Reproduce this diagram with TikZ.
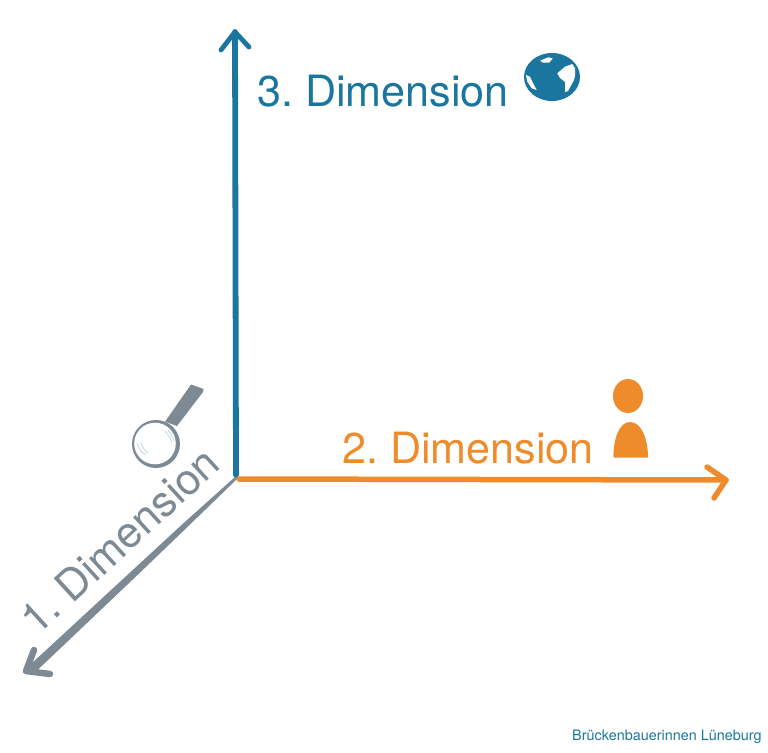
\documentclass[tikz,border=0pt]{standalone}
\usepackage{fontspec}
\setmainfont{TeX Gyre Heros}
\definecolor{axisblue}{HTML}{1A769F}
\definecolor{axisorange}{HTML}{EE8C2B}
\definecolor{axisgray}{HTML}{7D8A94}
\definecolor{glasshl}{HTML}{C9DDE6}
\tikzset{
  axisline/.style={line width=#1,line cap=round,line join=round},
  label3/.style={font=\fontsize{43.1}{48}\selectfont,inner sep=0pt,anchor=base west},
}
\begin{document}
\frenchspacing
\begin{tikzpicture}[x=1pt,y=-1pt]
\useasboundingbox (0,0) rectangle (768,752);
\coordinate (origin) at (236,478);
\coordinate (blueTip) at (235,32);
\coordinate (orangeTip) at (726,480);
\coordinate (grayTip) at (26,671);
% blue axis
\draw[axisblue,axisline=5.8pt] (origin) ++(0,-3) -- (blueTip);
\draw[axisblue,axisline=4.8pt] (221,50) -- (blueTip) -- (249,47);
% orange axis
\draw[axisorange,axisline=5.5pt] (origin) ++(3,1) -- (orangeTip);
\draw[axisorange,axisline=5.5pt] (707,467) -- (orangeTip) -- (714,498);
% gray axis
\fill[axisgray] (235,477) -- (182.6,524) -- (130.6,572) -- (27,667.7) -- (33,674.3) -- (135.4,577) -- (186.4,528) -- (237,479) -- cycle;
\draw[axisgray,axisline=6.5pt] (34,650) -- (grayTip) -- (50,674);
% labels
\node[label3,text=axisblue] (d3) at (257,106) {3. Dimension};
\node[label3,text=axisorange] (d2) at (342,463) {2. Dimension};
\node[label3,text=axisgray,rotate=42.5] (d1) at (37,637) {1. Dimension};
\node[font=\fontsize{14.4}{16}\selectfont,text=axisblue,inner sep=0pt,anchor=base west] (credit) at (572,740) {Brückenbauerinnen Lüneburg};
% magnifier
\fill[axisgray] (165,421.7) -- (191,384.5) -- (203.5,389) -- (203,392) -- (177,426) -- cycle;
\fill[axisgray] (156,444) circle (24);
\fill[white] (155,443.5) circle (20.8);
\draw[glasshl,line width=1pt] (137,443) .. controls (139,449) and (142,453) .. (146,455);
\draw[glasshl,line width=1pt] (141,442) .. controls (142,447) and (145,451) .. (148,453);
\draw[glasshl,line width=1pt] (165,431) .. controls (168,435) and (171,439) .. (172,443);
\draw[glasshl,line width=1pt] (168,430) .. controls (171,434) and (173,438) .. (174,441);
% globe
\fill[axisblue] (552,77) ellipse (28 and 24);
\fill[white] (540,60.7) -- (548.3,57.3) -- (552.7,58.3) -- (549.3,62.7) -- (543.3,62.7) -- cycle;
\fill[white] (526,75) -- (530,76.7) -- (532.3,81.7) -- (536.7,90) -- (531.7,88.3) -- (527.3,81.7) -- cycle;
\fill[white] (557.3,73.3) -- (565,66.7) -- (572.3,64) -- (575,68.3) -- (575,76) -- (574,80) -- (568,91) -- (565,92) -- (565,82) -- (560,78) -- cycle;
% person
\fill[axisorange] (628,396) ellipse (15 and 17);
\fill[axisorange] (613.5,457.5) .. controls (613,440) and (619,422) .. (630,422) .. controls (642,422) and (648,440) .. (648,457.5) -- cycle;
\end{tikzpicture}
\end{document}
